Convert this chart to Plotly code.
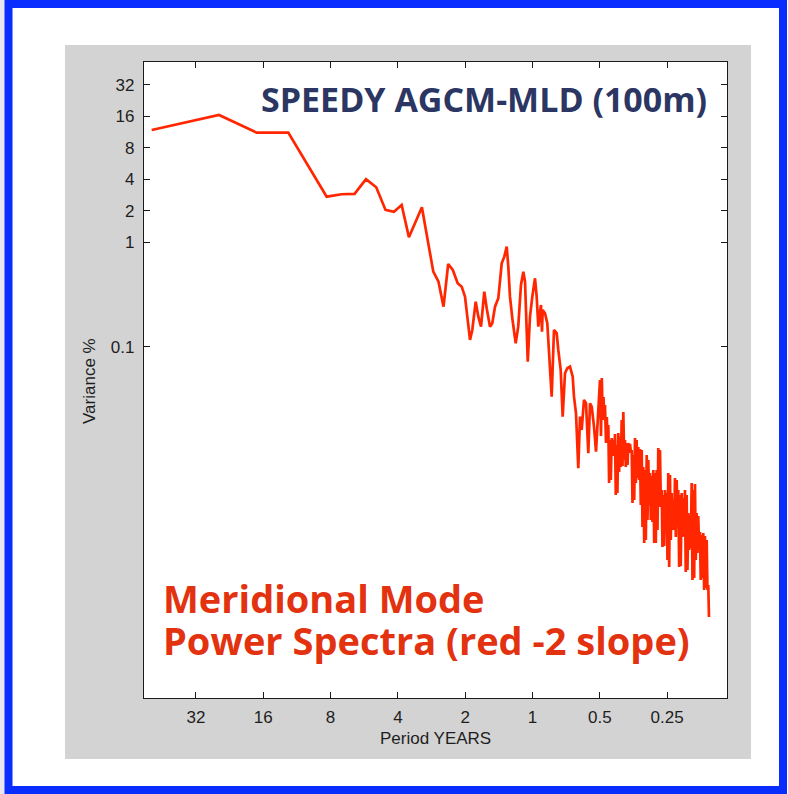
import plotly.graph_objects as go

# Period (years) and variance (%)
periods = [50.5, 25.25, 17.13, 12.37, 8.33, 7.14, 6.25, 5.556, 5.0, 4.545,
           4.168, 3.847, 3.571, 3.124, 2.778, 2.633, 2.5, 2.383, 2.272, 2.161,
           2.073, 2.004, 1.903, 1.859, 1.795, 1.747, 1.699, 1.643, 1.603, 1.549,
           1.513, 1.471, 1.422, 1.373, 1.337, 1.304, 1.283, 1.261, 1.231, 1.189,
           1.158, 1.126, 1.099, 1.080, 1.050, 1.026, 1.002, 0.9746, 0.9577, 0.9420,
           0.9162, 0.9068, 0.9003, 0.8793, 0.8587, 0.8438, 0.8207, 0.8014, 0.7794, 0.7667,
           0.7480, 0.7328, 0.7156, 0.6988, 0.6796, 0.6610, 0.6522, 0.6389, 0.6240, 0.6131,
           0.6025, 0.5884, 0.5763, 0.5628, 0.5530, 0.5434, 0.5307, 0.5199, 0.5077]

variance = [11.88, 16.53, 11.19, 11.19, 2.73, 2.88, 2.90, 4.01, 3.36, 2.04,
            1.96, 2.275, 1.116, 2.163, 0.523, 0.4197, 0.2419, 0.6198, 0.543, 0.4052,
            0.3759, 0.3016, 0.1162, 0.1448, 0.2701, 0.1941, 0.1557, 0.3367, 0.2335, 0.1557,
            0.1678, 0.2419, 0.2911, 0.6295, 0.728, 0.908, 0.584, 0.3016, 0.1874, 0.108,
            0.1557, 0.3903, 0.523, 0.4197, 0.0720, 0.1941, 0.3016, 0.4523, 0.3016, 0.1557,
            0.2512, 0.1395, 0.2250, 0.2092, 0.1678, 0.0967, 0.0333, 0.1448, 0.1346, 0.0932,
            0.0600, 0.02144, 0.05579, 0.06228, 0.06451, 0.05175, 0.0333, 0.02310, 0.006878, 0.02144,
            0.01599, 0.03097, 0.02879, 0.00957, 0.02879, 0.02672, 0.01719, 0.00991, 0.02484]

# high-frequency part (periods below half a year)
periods_hf = [0.4990, 0.4939, 0.4898, 0.4853, 0.4813, 0.4774, 0.4740, 0.4690, 0.4652, 0.4614,
              0.4580, 0.4543, 0.4501, 0.4464, 0.4423, 0.4387, 0.4351, 0.4310, 0.4275, 0.4240,
              0.4205, 0.4171, 0.4132, 0.4098, 0.4065, 0.4027, 0.3990, 0.3957, 0.3925, 0.3888,
              0.3857, 0.3825, 0.3793, 0.3759, 0.3728, 0.3697, 0.3663, 0.3633, 0.3599, 0.3570,
              0.3541, 0.3508, 0.3479, 0.3451, 0.3422, 0.3391, 0.3363, 0.3335, 0.3305, 0.3278,
              0.3247, 0.3221, 0.3194, 0.3165, 0.3139, 0.3113, 0.3084, 0.3059, 0.3034, 0.3006,
              0.2981, 0.2957, 0.2930, 0.2906, 0.2882, 0.2855, 0.2832, 0.2809, 0.2783, 0.2760,
              0.2737, 0.2712, 0.2690, 0.2668, 0.2643, 0.2622, 0.2600, 0.2576, 0.2555, 0.2534,
              0.2511, 0.2490, 0.2470, 0.2447, 0.2427, 0.2407, 0.2385, 0.2365, 0.2346, 0.2324,
              0.2305, 0.2286, 0.2265, 0.2247, 0.2228, 0.2208, 0.2189, 0.2172, 0.2151, 0.2134,
              0.2116, 0.2097, 0.2080, 0.2063, 0.2044, 0.2027, 0.2010, 0.1992, 0.1975, 0.1959,
              0.1941, 0.1925, 0.1909, 0.1892, 0.1876, 0.1861, 0.1844, 0.1829, 0.1814, 0.1797,
              0.1782, 0.1768, 0.1751, 0.1737, 0.1723, 0.1707, 0.1693, 0.1679, 0.1663, 0.1650,
              0.1636, 0.1624]

variance_hf = [0.04812, 0.01401, 0.05027, 0.01993, 0.03308, 0.02129, 0.02774, 0.01201, 0.02129, 0.01283,
               0.01785, 0.004974, 0.01283, 0.005313, 0.01341, 0.009016, 0.01283, 0.009218, 0.01464, 0.003818,
               0.01149, 0.003990, 0.01497, 0.006337, 0.01370, 0.007076, 0.01993, 0.007233, 0.02377, 0.008253,
               0.01283, 0.007076, 0.01201, 0.007394, 0.01201, 0.009632, 0.01175, 0.009847, 0.01029, 0.003201,
               0.009218, 0.003420, 0.01341, 0.004974, 0.01283, 0.005553, 0.01099, 0.005313, 0.01052, 0.003063,
               0.01029, 0.001886, 0.007076, 0.001326, 0.006624, 0.001416, 0.009218, 0.002201, 0.008253, 0.003063,
               0.006199, 0.002201, 0.005803, 0.002106, 0.006624, 0.001326, 0.006199, 0.001326, 0.006624, 0.001766,
               0.01076, 0.002931, 0.01029, 0.003420, 0.004263, 0.001214, 0.003818, 0.001241, 0.004263, 0.002201,
               0.003990, 0.000912, 0.006199, 0.000782, 0.005933, 0.001416, 0.003990, 0.001766, 0.003420, 0.001766,
               0.005553, 0.001513, 0.005313, 0.002201, 0.004263, 0.000782, 0.003818, 0.000799, 0.003990, 0.001513,
               0.003573, 0.001547, 0.004263, 0.000700, 0.003818, 0.000731, 0.002568, 0.001136, 0.002457, 0.001188,
               0.004974, 0.000587, 0.004263, 0.000613, 0.004865, 0.000912, 0.002568, 0.001063, 0.002404, 0.001136,
               0.001690, 0.000587, 0.001581, 0.000613, 0.001653, 0.000471, 0.001547, 0.000492, 0.001416, 0.000471,
               0.000526, 0.000260]

x_tick_vals = [32, 16, 8, 4, 2, 1, 0.5, 0.25]
x_tick_text = ["32", "16", "8", "4", "2", "1", "0.5", "0.25"]
y_tick_vals = [32, 16, 8, 4, 2, 1, 0.1]
y_tick_text = ["32", "16", "8", "4", "2", "1", "0.1"]

title_text = "SPEEDY AGCM-MLD (100m)"
note_line1 = "Meridional Mode"
note_line2 = "Power Spectra (red -2 slope)"

W, H = 788, 794
L, R, T, B = 144, 727, 62, 698
pw, ph = R - L, B - T


def px(x):
    return (x - L) / pw


def py(y):
    return (B - y) / ph


fig = go.Figure()
fig.add_trace(go.Scatter(x=periods + periods_hf, y=variance + variance_hf, mode="lines",
                         line=dict(color="#ff2600", width=2.7),
                         hoverinfo="skip", showlegend=False))

axis_common = dict(showline=True, linecolor="#1a1a1a", linewidth=1.3, mirror="ticks",
                   ticks="inside", ticklen=6, tickwidth=1.3, tickcolor="#1a1a1a",
                   showgrid=False, zeroline=False,
                   tickfont=dict(family="Liberation Sans, Arial, sans-serif", size=17, color="#1e1e1e"))

fig.update_xaxes(type="log", range=[1.7377, -0.870], tickmode="array",
                 tickvals=x_tick_vals, ticktext=x_tick_text, ticklabelstandoff=3, **axis_common)
fig.update_yaxes(type="log", range=[-4.361, 1.725], tickmode="array",
                 tickvals=y_tick_vals, ticktext=y_tick_text, ticklabelstandoff=5, **axis_common)

shapes = [
    dict(type="rect", xref="paper", yref="paper", x0=px(0), x1=px(5), y0=py(794), y1=py(0),
         fillcolor="#e9e6f1", line=dict(width=0), layer="below"),
    dict(type="rect", xref="paper", yref="paper", x0=px(65), x1=px(751), y0=py(759), y1=py(45),
         fillcolor="#d3d3d3", line=dict(width=0), layer="below"),
    dict(type="rect", xref="paper", yref="paper", x0=0, x1=1, y0=0, y1=1,
         fillcolor="white", line=dict(width=0), layer="below"),
    dict(type="rect", xref="paper", yref="paper", x0=px(8.5), x1=px(783), y0=py(790), y1=py(4),
         fillcolor="rgba(0,0,0,0)", line=dict(color="#0a2dff", width=8), layer="above"),
]

annotations = [
    dict(text=title_text, xref="paper", yref="paper", x=px(709), y=py(99),
         xanchor="right", yanchor="middle", showarrow=False,
         font=dict(family="Open Sans, sans-serif", size=34, color="#2b3663", weight="bold")),
    dict(text=note_line1, xref="paper", yref="paper", x=px(161), y=py(598),
         xanchor="left", yanchor="middle", showarrow=False,
         font=dict(family="Open Sans, sans-serif", size=38, color="#e33210", weight="bold")),
    dict(text=note_line2, xref="paper", yref="paper", x=px(161), y=py(640),
         xanchor="left", yanchor="middle", showarrow=False,
         font=dict(family="Open Sans, sans-serif", size=38, color="#e33210", weight="bold")),
    dict(text="Variance %", xref="paper", yref="paper", x=px(90), y=py(381),
         xanchor="center", yanchor="middle", textangle=-90, showarrow=False,
         font=dict(family="Liberation Sans, Arial, sans-serif", size=17, color="#1e1e1e")),
    dict(text="Period YEARS", xref="paper", yref="paper", x=px(435), y=py(738),
         xanchor="center", yanchor="middle", showarrow=False,
         font=dict(family="Liberation Sans, Arial, sans-serif", size=17, color="#1e1e1e")),
]

fig.update_layout(width=W, height=H, margin=dict(l=L, r=W - R, t=T, b=H - B, pad=0),
                  paper_bgcolor="white", plot_bgcolor="white",
                  shapes=shapes, annotations=annotations, showlegend=False)

fig.write_html("out.html", config={"displayModeBar": False},
               post_script="document.body.style.margin='0';document.body.style.overflow='hidden';")
